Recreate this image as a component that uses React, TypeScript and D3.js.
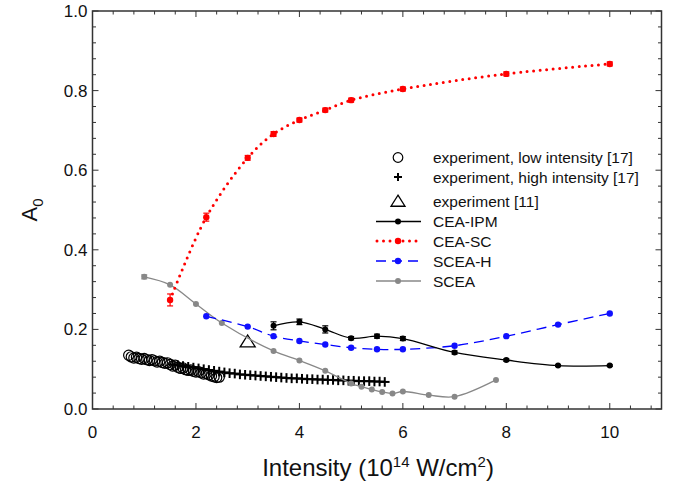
import React from "react";
import * as d3 from "d3";

const W = 676;
const H = 487;
const FONT = "'Liberation Sans', Arial, Helvetica, sans-serif";

// CEA-SC (red dotted)
const ceaScX = [1.5, 2.2, 3.0, 3.5, 4.0, 4.5, 5.0, 6.0, 8.0, 10.0];
const ceaScY = [0.274, 0.482, 0.631, 0.691, 0.726, 0.751, 0.776, 0.804, 0.842, 0.867];
const ceaScErr = [0.015, 0.01, 0.006, 0.006, 0.005, 0.005, 0.005, 0.005, 0.005, 0.005];

// CEA-IPM (black)
const ceaIpmX = [3.5, 4.0, 4.5, 5.0, 5.5, 6.0, 7.0, 8.0, 9.0, 10.0];
const ceaIpmY = [0.209, 0.219, 0.2, 0.178, 0.183, 0.177, 0.142, 0.123, 0.109, 0.109];
const ceaIpmErr = [0.01, 0.007, 0.009, 0.004, 0.005, 0.005, 0.004, 0.003, 0.002, 0.002];

// SCEA-H (blue dashed)
const sceaHX = [2.2, 3.0, 3.5, 4.0, 4.5, 5.0, 5.5, 6.0, 7.0, 8.0, 9.0, 10.0];
const sceaHY = [0.233, 0.207, 0.183, 0.171, 0.162, 0.154, 0.15, 0.15, 0.159, 0.183, 0.212, 0.24];

// SCEA (gray)
const sceaX = [1.0, 1.5, 2.0, 2.5, 3.5, 4.0, 4.5, 5.0, 5.2, 5.4, 5.6, 5.8, 6.0, 6.5, 7.0, 7.8];
const sceaY = [0.332, 0.312, 0.264, 0.216, 0.146, 0.122, 0.096, 0.064, 0.056, 0.049, 0.043, 0.039, 0.044, 0.035, 0.031, 0.073];
const sceaErr = [0.005, 0, 0, 0, 0, 0, 0, 0, 0, 0, 0, 0, 0, 0, 0, 0];

// experiment, low intensity [17] (open circles)
const lowX = [0.7, 0.75, 0.8, 0.85, 0.9, 0.95, 1.0, 1.05, 1.1, 1.15, 1.2, 1.25, 1.3, 1.35, 1.4, 1.45, 1.5, 1.55, 1.6, 1.65, 1.7, 1.75, 1.8, 1.85, 1.9, 1.95, 2.0, 2.05, 2.1, 2.15, 2.2, 2.25, 2.3, 2.35, 2.4, 2.45];
const lowY = [0.135, 0.131, 0.128, 0.13, 0.127, 0.125, 0.127, 0.124, 0.122, 0.124, 0.121, 0.118, 0.12, 0.117, 0.115, 0.116, 0.112, 0.108, 0.11, 0.105, 0.102, 0.103, 0.099, 0.097, 0.098, 0.095, 0.093, 0.094, 0.091, 0.088, 0.089, 0.086, 0.083, 0.081, 0.079, 0.08];

// experiment, high intensity [17] (crosses)
const highX = [1.55, 1.65, 1.75, 1.85, 1.95, 2.05, 2.15, 2.25, 2.35, 2.45, 2.55, 2.65, 2.75, 2.85, 2.95, 3.05, 3.15, 3.25, 3.35, 3.45, 3.55, 3.65, 3.75, 3.85, 3.95, 4.05, 4.15, 4.25, 4.35, 4.45, 4.55, 4.65, 4.75, 4.85, 4.95, 5.05, 5.15, 5.25, 5.35, 5.45, 5.55, 5.65];
const highY = [0.112, 0.11, 0.108, 0.106, 0.104, 0.102, 0.1, 0.098, 0.096, 0.094, 0.092, 0.09, 0.089, 0.087, 0.086, 0.085, 0.084, 0.083, 0.082, 0.081, 0.08, 0.079, 0.078, 0.077, 0.077, 0.076, 0.075, 0.075, 0.074, 0.074, 0.073, 0.073, 0.072, 0.072, 0.071, 0.071, 0.07, 0.07, 0.07, 0.069, 0.069, 0.068];

// experiment [11] (triangle)
const triX = [3.0];
const triY = [0.169];

const xMajor = [0, 2, 4, 6, 8, 10];
const yMajor = [0, 0.2, 0.4, 0.6, 0.8, 1.0];

const legendLabels = [
  "experiment, low intensity [17]",
  "experiment, high intensity [17]",
  "experiment [11]",
  "CEA-IPM",
  "CEA-SC",
  "SCEA-H",
  "SCEA",
];

const L = 92.5, R = 661.5, T = 11, B = 409;
const x = d3.scaleLinear().domain([0, 11]).range([L, R]);
const y = d3.scaleLinear().domain([0, 1]).range([B, T]);

const zip = (xs: number[], ys: number[]) => xs.map((v, i) => [v, ys[i]] as [number, number]);
const line = d3
  .line<[number, number]>()
  .x((d) => x(d[0]))
  .y((d) => y(d[1]))
  .curve(d3.curveCatmullRom.alpha(0.5));

function ErrBars({ xs, ys, es, color }: { xs: number[]; ys: number[]; es: number[]; color: string }) {
  return (
    <g stroke={color} strokeWidth={1.2}>
      {xs.map((v, i) =>
        es[i] > 0 ? (
          <g key={i}>
            <line x1={x(v)} x2={x(v)} y1={y(ys[i] - es[i])} y2={y(ys[i] + es[i])} />
            <line x1={x(v) - 3} x2={x(v) + 3} y1={y(ys[i] - es[i])} y2={y(ys[i] - es[i])} />
            <line x1={x(v) - 3} x2={x(v) + 3} y1={y(ys[i] + es[i])} y2={y(ys[i] + es[i])} />
          </g>
        ) : null
      )}
    </g>
  );
}

function Dots({ xs, ys, r, color }: { xs: number[]; ys: number[]; r: number; color: string }) {
  return (
    <g fill={color}>
      {xs.map((v, i) => (
        <circle key={i} cx={x(v)} cy={y(ys[i])} r={r} />
      ))}
    </g>
  );
}

function Cross({ cx, cy, s }: { cx: number; cy: number; s: number }) {
  return (
    <g stroke="#000" strokeWidth={2}>
      <line x1={cx - s} x2={cx + s} y1={cy} y2={cy} />
      <line x1={cx} x2={cx} y1={cy - s} y2={cy + s} />
    </g>
  );
}

function Triangle({ cx, cy, s }: { cx: number; cy: number; s: number }) {
  const h = s * 0.9;
  return (
    <path
      d={`M${cx},${cy - h} L${cx + s},${cy + h * 0.75} L${cx - s},${cy + h * 0.75} Z`}
      fill="#fff"
      stroke="#000"
      strokeWidth={1.3}
    />
  );
}

export default function App() {
  const xMinor = d3.range(0, 11.001, 0.4).filter((v) => !xMajor.some((m) => Math.abs(m - v) < 1e-6));
  const yMinor = d3.range(0, 1.0001, 0.04).filter((v) => !yMajor.some((m) => Math.abs(m - v) < 1e-6));
  const legX = 398;
  const legTextX = 433;
  const legRows = [157.5, 177, 201.5, 221.5, 241, 261, 281];

  return (
    <svg width={W} height={H} style={{ position: "absolute", left: 0, top: 0, background: "#fff" }} fontFamily={FONT}>
      <rect x={0} y={0} width={W} height={H} fill="#fff" />
      {/* ticks */}
      <g stroke="#333" strokeWidth={1}>
        {xMajor.map((v) => (
          <g key={"xM" + v}>
            <line x1={x(v)} x2={x(v)} y1={B} y2={B - 6} />
            <line x1={x(v)} x2={x(v)} y1={T} y2={T + 6} />
          </g>
        ))}
        {xMinor.map((v) => (
          <g key={"xm" + v}>
            <line x1={x(v)} x2={x(v)} y1={B} y2={B - 3.5} />
            <line x1={x(v)} x2={x(v)} y1={T} y2={T + 3.5} />
          </g>
        ))}
        {yMajor.map((v) => (
          <g key={"yM" + v}>
            <line x1={L} x2={L + 6} y1={y(v)} y2={y(v)} />
            <line x1={R} x2={R - 6} y1={y(v)} y2={y(v)} />
          </g>
        ))}
        {yMinor.map((v) => (
          <g key={"ym" + v}>
            <line x1={L} x2={L + 3.5} y1={y(v)} y2={y(v)} />
            <line x1={R} x2={R - 3.5} y1={y(v)} y2={y(v)} />
          </g>
        ))}
      </g>
      <rect x={L} y={T} width={R - L} height={B - T} fill="none" stroke="#333" strokeWidth={1.5} />

      {/* tick labels */}
      <g fontSize={17} fill="#111">
        {xMajor.map((v) => (
          <text key={"xl" + v} x={x(v)} y={B + 29} textAnchor="middle">
            {v}
          </text>
        ))}
        {yMajor.map((v) => (
          <text key={"yl" + v} x={L - 5} y={y(v) + 6} textAnchor="end">
            {v.toFixed(1)}
          </text>
        ))}
      </g>

      {/* axis titles */}
      <text x={378} y={476} textAnchor="middle" fontSize={24} fill="#111">
        Intensity (10
        <tspan dy={-9} fontSize={15}>14</tspan>
        <tspan dy={9}> W/cm</tspan>
        <tspan dy={-9} fontSize={15}>2</tspan>
        <tspan dy={9}>)</tspan>
      </text>
      <text transform="translate(37,210) rotate(-90)" textAnchor="middle" fontSize={22} fill="#111">
        A<tspan dy={6} fontSize={15}>0</tspan>
      </text>

      {/* experiment low intensity circles */}
      <g fill="none" stroke="#000" strokeWidth={1.2}>
        {lowX.map((v, i) => (
          <circle key={i} cx={x(v)} cy={y(lowY[i])} r={5.1} />
        ))}
      </g>
      {/* experiment high intensity crosses */}
      {highX.map((v, i) => (
        <Cross key={i} cx={x(v)} cy={y(highY[i])} s={4.8} />
      ))}
      {/* experiment [11] */}
      {triX.map((v, i) => (
        <Triangle key={i} cx={x(v)} cy={y(triY[i])} s={7.5} />
      ))}

      {/* SCEA gray */}
      <path d={line(zip(sceaX, sceaY)) || ""} fill="none" stroke="#888" strokeWidth={1.3} />
      <ErrBars xs={sceaX} ys={sceaY} es={sceaErr} color="#888" />
      <Dots xs={sceaX} ys={sceaY} r={3} color="#888" />

      {/* SCEA-H blue */}
      <path d={line(zip(sceaHX, sceaHY)) || ""} fill="none" stroke="#0000ff" strokeWidth={1.3} strokeDasharray="10 6" />
      <Dots xs={sceaHX} ys={sceaHY} r={3.2} color="#1010ff" />

      {/* CEA-IPM black */}
      <path d={line(zip(ceaIpmX, ceaIpmY)) || ""} fill="none" stroke="#000" strokeWidth={1.3} />
      <ErrBars xs={ceaIpmX} ys={ceaIpmY} es={ceaIpmErr} color="#000" />
      <Dots xs={ceaIpmX} ys={ceaIpmY} r={3} color="#000" />

      {/* CEA-SC red */}
      <path
        d={line(zip(ceaScX, ceaScY)) || ""}
        fill="none"
        stroke="#ff0000"
        strokeWidth={3}
        strokeLinecap="round"
        strokeDasharray="0 6.5"
      />
      <ErrBars xs={ceaScX} ys={ceaScY} es={ceaScErr} color="#ff0000" />
      <Dots xs={ceaScX} ys={ceaScY} r={3.2} color="#ff0000" />

      {/* legend */}
      <g fontSize={15.5} fill="#111">
        {legendLabels.map((lab, i) => (
          <text key={lab} x={legTextX} y={legRows[i] + 5.5}>
            {lab}
          </text>
        ))}
      </g>
      <circle cx={legX} cy={legRows[0]} r={4.8} fill="none" stroke="#000" strokeWidth={1.2} />
      <Cross cx={legX} cy={legRows[1]} s={4} />
      <Triangle cx={legX} cy={legRows[2]} s={7} />
      <line x1={376} x2={421} y1={legRows[3]} y2={legRows[3]} stroke="#000" strokeWidth={1.3} />
      <circle cx={legX} cy={legRows[3]} r={3} fill="#000" />
      <line x1={377} x2={421} y1={legRows[4]} y2={legRows[4]} stroke="#ff0000" strokeWidth={3} strokeLinecap="round" strokeDasharray="0 6.5" />
      <circle cx={legX} cy={legRows[4]} r={3.2} fill="#ff0000" />
      <line x1={376} x2={421} y1={legRows[5]} y2={legRows[5]} stroke="#0000ff" strokeWidth={1.3} strokeDasharray="10 6" />
      <circle cx={legX} cy={legRows[5]} r={3.2} fill="#1010ff" />
      <line x1={376} x2={421} y1={legRows[6]} y2={legRows[6]} stroke="#888" strokeWidth={1.3} />
      <circle cx={legX} cy={legRows[6]} r={3} fill="#888" />
    </svg>
  );
}
